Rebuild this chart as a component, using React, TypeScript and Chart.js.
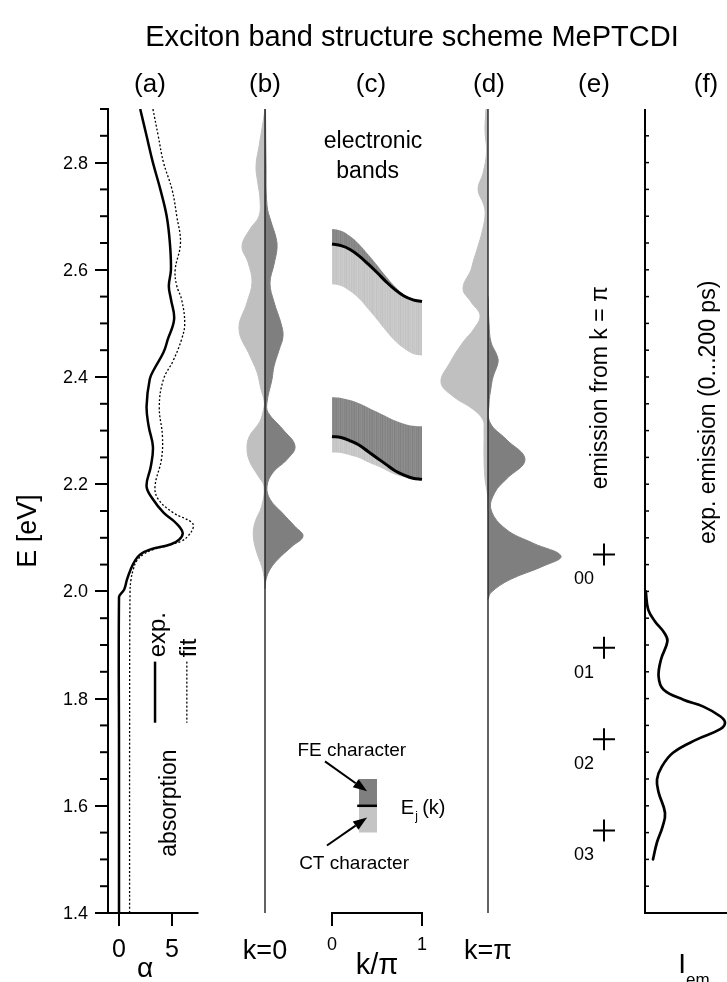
import React, { useEffect, useRef } from 'react';
import { Chart, registerables } from 'chart.js';

Chart.register(...registerables);

const FONT = '"Liberation Sans", Arial, Helvetica, sans-serif';
const TITLE = 'Exciton band structure scheme MePTCDI';
const PANEL_LABELS = ['(a)', '(b)', '(c)', '(d)', '(e)', '(f)'];
const PANEL_X = [150, 265, 371, 489, 594, 706];

// energy axis [eV]
const E_MIN = 1.4;
const E_MAX = 2.9;
const E_STEP = 0.2;
const E_TICKS = [1.4, 1.6, 1.8, 2.0, 2.2, 2.4, 2.6, 2.8];

// (a) absorption: experiment and fit (E [eV], alpha)
const absExpE = [2.90, 2.85, 2.80, 2.75, 2.70, 2.65, 2.60, 2.57, 2.545, 2.508, 2.47, 2.446, 2.414, 2.396, 2.345, 2.308, 2.27, 2.233, 2.196, 2.172, 2.147, 2.129, 2.11, 2.097, 2.088, 2.078, 2.069, 2.057, 2.041, 2.022, 2.004, 1.995, 1.989, 1.70, 1.40];
const absExpA = [2.0, 2.6, 3.2, 3.9, 4.5, 4.8, 4.9, 4.7, 4.9, 5.2, 4.6, 4.2, 3.3, 2.9, 2.6, 2.8, 3.2, 3.0, 2.6, 3.2, 4.2, 5.3, 6.0, 5.7, 4.9, 2.9, 2.0, 1.5, 1.1, 0.75, 0.5, 0.15, 0, 0, 0];
const absFitE = [2.90, 2.85, 2.80, 2.75, 2.70, 2.65, 2.60, 2.57, 2.545, 2.50, 2.47, 2.43, 2.396, 2.345, 2.289, 2.246, 2.196, 2.172, 2.147, 2.129, 2.119, 2.103, 2.094, 2.085, 2.078, 2.069, 2.057, 2.041, 2.022, 1.998, 1.70, 1.40];
const absFitA = [3.2, 3.7, 4.2, 5.0, 5.45, 5.8, 5.3, 5.45, 5.9, 6.2, 5.9, 5.1, 4.2, 3.8, 4.1, 4.0, 3.4, 3.7, 5.1, 6.85, 7.0, 6.5, 5.9, 4.5, 3.2, 2.3, 1.67, 1.35, 1.13, 1.04, 1.0, 1.0];
const ALPHA_TICKS = [0, 5];

// (b) k = 0 oscillator strength profiles (light: CT side, dark: FE side)
const bLightE = [2.90, 2.875, 2.83, 2.793, 2.76, 2.732, 2.70, 2.676, 2.644, 2.614, 2.577, 2.539, 2.489, 2.439, 2.409, 2.377, 2.353, 2.335, 2.315, 2.289, 2.265, 2.241, 2.215, 2.196, 2.159, 2.129, 2.103, 2.073, 2.047, 2.028, 2.01];
const bLight = [0, 0.2, 0.6, 0.9, 0.7, 0.5, 0.6, 1.5, 2.3, 1.7, 1.3, 1.8, 2.6, 1.5, 0.8, 0.4, 0.07, 0.2, 0.57, 1.57, 1.8, 1.5, 0.67, 0.1, 0.33, 1.0, 1.17, 0.83, 0.33, 0.1, 0];
const bDarkE = [2.90, 2.80, 2.72, 2.69, 2.66, 2.64, 2.61, 2.575, 2.54, 2.50, 2.476, 2.45, 2.42, 2.396, 2.353, 2.334, 2.302, 2.271, 2.246, 2.222, 2.196, 2.172, 2.147, 2.121, 2.103, 2.084, 2.06, 2.041, 2.022, 2.005];
const bDark = [0.05, 0.1, 0.2, 0.6, 1.1, 1.2, 0.9, 0.5, 0.9, 1.6, 1.8, 1.4, 0.9, 0.7, 0.2, 0.3, 1.8, 3.0, 2.2, 0.8, 0.2, 0.5, 1.7, 3.0, 3.8, 2.7, 1.3, 0.5, 0.1, 0];

// (c) electronic bands vs k/pi
const kGrid = [0, 0.1, 0.2, 0.3, 0.4, 0.5, 0.6, 0.7, 0.8, 0.9, 1.0];
const band1Top = [2.676, 2.673, 2.663, 2.648, 2.629, 2.609, 2.588, 2.569, 2.554, 2.544, 2.541];
const band1Mid = [2.648, 2.645, 2.638, 2.626, 2.611, 2.595, 2.578, 2.563, 2.551, 2.544, 2.541];
const band1Bot = [2.573, 2.570, 2.560, 2.546, 2.527, 2.507, 2.486, 2.467, 2.453, 2.443, 2.440];
const band2Top = [2.362, 2.361, 2.357, 2.351, 2.343, 2.335, 2.327, 2.319, 2.313, 2.309, 2.308];
const band2Mid = [2.289, 2.287, 2.281, 2.273, 2.261, 2.249, 2.237, 2.225, 2.217, 2.211, 2.209];
const band2Bot = [2.259, 2.258, 2.254, 2.249, 2.241, 2.234, 2.226, 2.218, 2.213, 2.209, 2.208];
const K_TICKS = [0, 1];
// inset key
const insetK = [0.3, 0.5];
const insetLineK = [0.28, 0.5];
const insetE = [1.65, 1.6, 1.55];

// (d) k = pi profiles
const dLightE = [2.90, 2.86, 2.82, 2.78, 2.75, 2.72, 2.70, 2.67, 2.644, 2.614, 2.60, 2.565, 2.54, 2.515, 2.49, 2.465, 2.427, 2.39, 2.364, 2.34, 2.32, 2.30, 2.25, 2.21, 2.18, 2.15];
const dLight = [0.2, 0.3, 0.15, 0.5, 1.0, 0.4, 0.3, 0.6, 1.0, 1.5, 1.7, 2.5, 1.7, 0.8, 1.4, 2.5, 3.8, 4.7, 3.5, 1.5, 0.5, 0.4, 0.4, 0.3, 0.05, 0];
const dDarkE = [2.55, 2.50, 2.465, 2.44, 2.427, 2.40, 2.38, 2.35, 2.315, 2.284, 2.246, 2.209, 2.185, 2.153, 2.116, 2.09, 2.066, 2.047, 2.022, 1.998, 1.985];
const dDark = [0, 0.1, 0.3, 0.9, 1.0, 0.5, 0.3, 0.1, 0.2, 1.8, 3.7, 1.8, 0.7, 0.3, 1.8, 4.5, 7.3, 5.5, 2.2, 0.3, 0];

// (e) vibronic emission lines from k = pi
const vibE = [2.069, 1.895, 1.724, 1.554];
const vibLabels = ['00', '01', '02', '03'];

// (f) experimental emission
const emE = [2.00, 1.966, 1.944, 1.923, 1.907, 1.873, 1.841, 1.817, 1.798, 1.785, 1.767, 1.755, 1.743, 1.724, 1.699, 1.673, 1.649, 1.625, 1.587, 1.561, 1.532, 1.50];
const emI = [0.01, 0.04, 0.125, 0.24, 0.28, 0.2, 0.17, 0.23, 0.48, 0.73, 0.94, 1.0, 0.94, 0.65, 0.35, 0.21, 0.15, 0.17, 0.25, 0.22, 0.15, 0.10];

// ---- layout (pixels) ----
const W = 727;
const H = 982;
const AREA = { left: 108, right: 727, top: 109, bottom: 913 };
// panel x-scales: value v0 sits at pixel p0, value v1 at pixel p1
const PANEL_SPANS: Record<string, [number, number, number, number]> = {
  xa: [0, 5, 119, 172],
  xb: [0, 1, 265, 275],
  xc: [0, 1, 332, 422],
  xd: [0, 1, 488, 498],
  xe: [0, 1, 604, 614],
  xf: [0, 1, 645, 725],
};
const LIGHT = '#c0c0c0';
const DARK = '#7f7f7f';
const STRIPES_A = [0, 6, -4, 3, -8, 5, 1, -3, 7, -5, 2, 0, -6, 4, -2, 8, -7, 3];
const STRIPES_B = [0, 4, -3, 2, -6, 3, 1, -2, 5, -4, 2, 0, -5, 3, -1, 6, -4, 2];

function spanRange(id: string, left: number, right: number) {
  const [v0, v1, p0, p1] = PANEL_SPANS[id];
  const k = (v1 - v0) / (p1 - p0);
  return { min: v0 - (p0 - left) * k, max: v1 + (right - p1) * k };
}

const pts = (xs: number[], ys: number[]) => xs.map((x, i) => ({ x, y: ys[i] }));
const vpts = (es: number[], vs: number[], sign = 1) => es.map((e, i) => ({ x: sign * vs[i], y: e }));

function stripes(ctx: CanvasRenderingContext2D, base: number, seq: number[]) {
  const c = document.createElement('canvas');
  c.width = seq.length;
  c.height = 1;
  const g = c.getContext('2d')!;
  seq.forEach((d, i) => {
    const v = base + d;
    g.fillStyle = `rgb(${v},${v},${v})`;
    g.fillRect(i, 0, 1, 1);
  });
  return ctx.createPattern(c, 'repeat') || (base > 160 ? LIGHT : DARK);
}

function txt(ctx: CanvasRenderingContext2D, s: string, x: number, y: number, size: number, align: CanvasTextAlign = 'center', rot = false, baseline: CanvasTextBaseline = 'alphabetic') {
  ctx.save();
  ctx.font = `${size}px ${FONT}`;
  ctx.textAlign = align;
  ctx.textBaseline = baseline;
  ctx.fillStyle = '#000';
  ctx.translate(x, y);
  if (rot) ctx.rotate(-Math.PI / 2);
  ctx.fillText(s, 0, 0);
  ctx.restore();
}

function arrow(ctx: CanvasRenderingContext2D, x0: number, y0: number, x1: number, y1: number) {
  const a = Math.atan2(y1 - y0, x1 - x0);
  const L = 14, w = 5;
  const c = Math.cos(a), s = Math.sin(a);
  ctx.beginPath();
  ctx.moveTo(x0, y0);
  ctx.lineTo(x1 - L * c, y1 - L * s);
  ctx.lineWidth = 2;
  ctx.stroke();
  ctx.beginPath();
  ctx.moveTo(x1, y1);
  ctx.lineTo(x1 - L * c + w * s, y1 - L * s - w * c);
  ctx.lineTo(x1 - L * c - w * s, y1 - L * s + w * c);
  ctx.closePath();
  ctx.fill();
}

const deco = {
  id: 'deco',
  afterDraw(chart: any) {
    const { ctx, scales, chartArea } = chart;
    const Y = (v: number) => scales.y.getPixelForValue(v);
    const X = (id: string, v: number) => scales[id].getPixelForValue(v);
    const bot = chartArea.bottom;
    ctx.save();
    ctx.strokeStyle = '#000';
    ctx.fillStyle = '#000';
    ctx.lineCap = 'butt';

    // title and panel labels
    txt(ctx, TITLE, 412, 46, 29);
    PANEL_LABELS.forEach((l, i) => txt(ctx, l, PANEL_X[i], 92, 26));

    // energy axis title, tick labels and minor ticks
    txt(ctx, 'E [eV]', 36, 531, 27, 'center', true);
    E_TICKS.forEach((e) => txt(ctx, e.toFixed(1), chartArea.left - 20, Y(e) + 1, 18, 'right', false, 'middle'));
    ctx.lineWidth = 2;
    for (let i = 29; i <= 58; i++) {
      if (i % 4 === 0) continue;
      const y = Y(i * 0.05);
      ctx.beginPath();
      ctx.moveTo(chartArea.left - 8, y);
      ctx.lineTo(chartArea.left, y);
      ctx.stroke();
    }

    // (a) alpha axis
    ctx.lineWidth = 2;
    ctx.beginPath();
    ctx.moveTo(chartArea.left, Y(E_MIN));
    ctx.lineTo(X('xa', 7.5), Y(E_MIN));
    ctx.stroke();
    ALPHA_TICKS.forEach((a) => {
      const x = X('xa', a);
      ctx.beginPath();
      ctx.moveTo(x, bot);
      ctx.lineTo(x, bot + 13);
      ctx.stroke();
      txt(ctx, String(a), x, bot + 44, 25);
    });
    txt(ctx, 'α', X('xa', 2.45), bot + 64, 28);
    // (a) legend
    txt(ctx, 'exp.', X('xa', 4.34), Y(1.877), 24, 'left', true);
    txt(ctx, 'fit', X('xa', 7.26), Y(1.877), 24, 'left', true);
    ctx.lineWidth = 2.5;
    ctx.beginPath();
    ctx.moveTo(X('xa', 3.4), Y(1.869));
    ctx.lineTo(X('xa', 3.4), Y(1.755));
    ctx.stroke();
    ctx.lineWidth = 1.3;
    ctx.setLineDash([2, 2]);
    ctx.beginPath();
    ctx.moveTo(X('xa', 6.4), Y(1.869));
    ctx.lineTo(X('xa', 6.4), Y(1.755));
    ctx.stroke();
    ctx.setLineDash([]);
    txt(ctx, 'absorption', X('xa', 5.38), Y(1.605), 23, 'center', true);

    // (b), (d) labels
    txt(ctx, 'k=0', X('xb', 0), bot + 46, 27);
    txt(ctx, 'k=π', X('xd', 0), bot + 46, 27);

    // (c) k axis bracket
    ctx.lineWidth = 2;
    ctx.beginPath();
    ctx.moveTo(X('xc', 0), bot + 13);
    ctx.lineTo(X('xc', 0), bot);
    ctx.lineTo(X('xc', 1), bot);
    ctx.lineTo(X('xc', 1), bot + 13);
    ctx.stroke();
    K_TICKS.forEach((k) => txt(ctx, String(k), X('xc', k), bot + 37, 18));
    txt(ctx, 'k/π', X('xc', 0.5), bot + 61, 29);
    txt(ctx, 'electronic', X('xc', 0.456), Y(2.827), 23);
    txt(ctx, 'bands', X('xc', 0.396), Y(2.771), 23);
    // inset key
    txt(ctx, 'FE character', X('xc', 0.22), Y(1.692), 19);
    txt(ctx, 'CT character', X('xc', 0.245), Y(1.483), 19);
    const ex = X('xc', 0.765), ey = Y(1.584);
    txt(ctx, 'E', ex, ey, 20, 'left');
    ctx.font = `20px ${FONT}`;
    const eW = ctx.measureText('E').width;
    txt(ctx, 'j', ex + eW + 1, ey + 6, 12, 'left');
    txt(ctx, '(k)', ex + eW + 8, ey, 20, 'left');
    arrow(ctx, X('xc', -0.078), Y(1.683), X('xc', 0.39), Y(1.627));
    arrow(ctx, X('xc', -0.056), Y(1.526), X('xc', 0.39), Y(1.578));

    // (e) labels
    vibE.forEach((e, i) => txt(ctx, vibLabels[i], X('xe', 0) - 10, Y(e) + 30, 18, 'right'));
    txt(ctx, 'emission from k = π', X('xe', 0.3), Y(2.38), 23, 'center', true);

    // (f) axes
    const fx = X('xf', 0);
    ctx.lineWidth = 2;
    ctx.beginPath();
    ctx.moveTo(fx, Y(E_MAX));
    ctx.lineTo(fx, Y(E_MIN));
    ctx.lineTo(chart.width, Y(E_MIN));
    ctx.stroke();
    ctx.lineWidth = 1.5;
    for (let i = 29; i <= 57; i++) {
      const y = Y(i * 0.05);
      ctx.beginPath();
      ctx.moveTo(fx, y);
      ctx.lineTo(fx + 4, y);
      ctx.stroke();
    }
    txt(ctx, 'exp. emission (0...200 ps)', X('xf', 0.875), Y(2.334), 23, 'center', true);
    ctx.font = `28px ${FONT}`;
    const ix = X('xf', 0.415);
    txt(ctx, 'I', ix, bot + 60, 28, 'left');
    ctx.font = `28px ${FONT}`;
    const iW = ctx.measureText('I').width;
    txt(ctx, 'em', ix + iW, bot + 72, 17, 'left');

    ctx.restore();
  },
};

export default function App() {
  const ref = useRef<HTMLCanvasElement>(null);
  useEffect(() => {
    const canvas = ref.current!;
    const ctx = canvas.getContext('2d')!;
    const darkFill = stripes(ctx, 136, STRIPES_A);
    const lightFill = stripes(ctx, 199, STRIPES_B);

    const profile = (id: string, es: number[], vs: number[], sign: number, color: string) => ({
      xAxisID: id,
      indexAxis: 'y',
      data: vpts(es, vs, sign),
      fill: 'origin',
      backgroundColor: color,
      borderColor: color,
      borderWidth: 1,
      pointRadius: 0,
      tension: 0.4,
      clip: false,
      order: 6,
    });
    const axisLine = (id: string) => ({
      xAxisID: id,
      data: [{ x: 0, y: E_MIN }, { x: 0, y: E_MAX }],
      borderColor: '#202020',
      borderWidth: 1.4,
      pointRadius: 0,
      fill: false,
      order: 1,
    });
    const bandEdge = (ys: number[], fill: any, bg: any, xs = kGrid) => ({
      xAxisID: 'xc',
      data: pts(xs, ys),
      fill,
      backgroundColor: bg,
      borderColor: 'rgba(0,0,0,0)',
      borderWidth: 0,
      pointRadius: 0,
      tension: 0.4,
      order: 6,
    });
    const bandMid = (ys: number[], bg: any, xs = kGrid, w = 3) => ({
      xAxisID: 'xc',
      data: pts(xs, ys),
      fill: '+1',
      backgroundColor: bg,
      borderColor: '#000',
      borderWidth: w,
      pointRadius: 0,
      tension: 0.4,
      order: 2,
    });

    const datasets: any[] = [
      // (a)
      {
        xAxisID: 'xa', indexAxis: 'y', data: vpts(absExpE, absExpA), borderColor: '#000', borderWidth: 2.5,
        pointRadius: 0, tension: 0.4, fill: false, order: 3,
      },
      {
        xAxisID: 'xa', indexAxis: 'y', data: vpts(absFitE, absFitA), borderColor: '#000', borderWidth: 1.3,
        borderDash: [2, 2], pointRadius: 0, tension: 0.4, fill: false, order: 3,
      },
      // (b)
      profile('xb', bLightE, bLight, -1, LIGHT),
      profile('xb', bDarkE, bDark, 1, DARK),
      axisLine('xb'),
      // (c) band 1
      bandEdge(band1Top, '+1', darkFill),
      bandMid(band1Mid, lightFill),
      bandEdge(band1Bot, false, 'rgba(0,0,0,0)'),
      // (c) band 2
      bandEdge(band2Top, '+1', darkFill),
      bandMid(band2Mid, lightFill),
      bandEdge(band2Bot, false, 'rgba(0,0,0,0)'),
      // (c) inset key
      bandEdge([insetE[0], insetE[0]], '+1', DARK, insetK),
      bandMid([insetE[1], insetE[1]], '#c4c4c4', insetLineK, 2.5),
      bandEdge([insetE[2], insetE[2]], false, 'rgba(0,0,0,0)', insetK),
      // (d)
      profile('xd', dLightE, dLight, -1, LIGHT),
      profile('xd', dDarkE, dDark, 1, DARK),
      axisLine('xd'),
      // (e)
      {
        type: 'scatter', xAxisID: 'xe', data: vibE.map((e) => ({ x: 0, y: e })), showLine: false,
        pointStyle: 'cross', pointRadius: 11, pointBorderWidth: 2, pointBorderColor: '#000', order: 0, clip: false,
      },
      // (f)
      {
        xAxisID: 'xf', indexAxis: 'y', data: vpts(emE, emI), borderColor: '#000', borderWidth: 2.7,
        borderCapStyle: 'round', pointRadius: 0, tension: 0.4, fill: false, order: 3, clip: false,
      },
    ];

    const hidden = (id: string) => ({ type: 'linear', display: false, ...spanRange(id, AREA.left, AREA.right) });

    const chart = new Chart(canvas, {
      type: 'line',
      data: { datasets },
      options: {
        responsive: false,
        animation: false,
        events: [],
        layout: {
          autoPadding: false,
          padding: { top: AREA.top, bottom: H - AREA.bottom, left: 0, right: W - AREA.right },
        },
        plugins: { legend: { display: false }, tooltip: { enabled: false }, title: { display: false } },
        scales: {
          y: {
            type: 'linear',
            position: 'left',
            min: E_MIN,
            max: E_MAX,
            afterFit: (s: any) => { s.width = AREA.left; },
            ticks: {
              stepSize: E_STEP,
              includeBounds: false,
              callback: (v: any) => Number(v).toFixed(1),
              font: { family: FONT, size: 18 },
              color: 'rgba(0,0,0,0)',
              padding: 7,
            },
            grid: { drawOnChartArea: false, tickLength: 13, tickWidth: 2, tickColor: '#000', lineWidth: 2 },
            border: { color: '#000', width: 2 },
          },
          xa: hidden('xa'),
          xb: hidden('xb'),
          xc: hidden('xc'),
          xd: hidden('xd'),
          xe: hidden('xe'),
          xf: hidden('xf'),
        },
      } as any,
      plugins: [deco],
    } as any);

    // map each panel onto its pixel span using the real plot area
    const { left, right } = chart.chartArea;
    if (Math.abs(left - AREA.left) > 0.5 || Math.abs(right - AREA.right) > 0.5) {
      Object.keys(PANEL_SPANS).forEach((id) => {
        const r = spanRange(id, left, right);
        const s = (chart.options.scales as any)[id];
        s.min = r.min;
        s.max = r.max;
      });
      chart.update();
    }

    return () => chart.destroy();
  }, []);

  return (
    <div style={{ position: 'fixed', left: 0, top: 0, width: W, height: H, background: '#fff' }}>
      <canvas ref={ref} width={W} height={H} style={{ display: 'block' }} />
    </div>
  );
}
